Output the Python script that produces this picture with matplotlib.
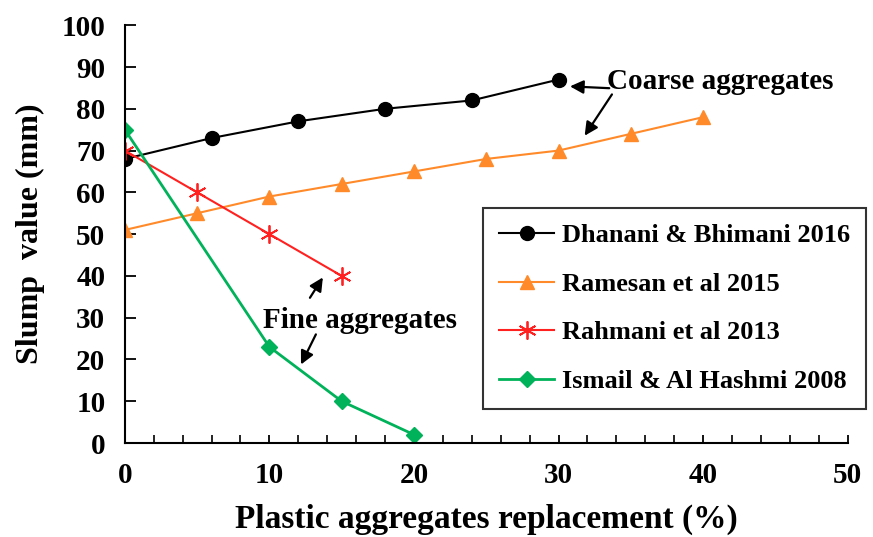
import matplotlib.pyplot as plt
from matplotlib.ticker import MultipleLocator

plt.rcParams['font.family'] = ['Liberation Serif', 'DejaVu Serif']
plt.rcParams['font.weight'] = 'bold'

# data
x_dhanani = [0, 6, 12, 18, 24, 30]
y_dhanani = [68, 73, 77, 80, 82, 87]
x_ramesan = [0, 5, 10, 15, 20, 25, 30, 35, 40]
y_ramesan = [51, 55, 59, 62, 65, 68, 70, 74, 78]
x_rahmani = [0, 5, 10, 15]
y_rahmani = [70, 60, 50, 40]
x_ismail = [0, 10, 15, 20]
y_ismail = [75, 23, 10, 2]

fig = plt.figure(figsize=(8.73, 5.37), dpi=100)
ax = fig.add_axes([0.143, 0.175, 0.828, 0.778])

ax.plot(x_dhanani, y_dhanani, color="black", marker="o", ms=10, lw=1.5,
        label="Dhanani & Bhimani 2016")
ax.plot(x_ramesan, y_ramesan, color="#ff8a2a", marker="^", ms=10, lw=1.5,
        label="Ramesan et al 2015")
ax.plot(x_rahmani, y_rahmani, color="#ff2020", marker=(6, 2, 0), ms=13, mew=1.3,
        lw=1.5, label="Rahmani et al 2013")
ax.plot(x_ismail, y_ismail, color="#00b259", marker="D", ms=8, lw=2,
        label="Ismail & Al Hashmi 2008")

ax.set_xlim(0, 50)
ax.set_ylim(0, 100)
ax.xaxis.set_major_locator(MultipleLocator(10))
ax.xaxis.set_minor_locator(MultipleLocator(2))
ax.yaxis.set_major_locator(MultipleLocator(10))
ax.spines["top"].set_visible(False)
ax.spines["right"].set_visible(False)
ax.spines["left"].set_linewidth(1.5)
ax.spines["bottom"].set_linewidth(1.5)
ax.tick_params(axis="y", which="major", direction="in", length=8, width=1.3,
               labelsize=21, pad=14)
ax.tick_params(axis="x", which="major", direction="in", length=6, width=1.3,
               labelsize=21, pad=14)
ax.tick_params(axis="x", which="minor", direction="in", length=6, width=1.2)
ax.set_xlabel("Plastic aggregates replacement (%)", fontsize=24, fontweight="bold", labelpad=10)
ax.set_ylabel("Slump  value (mm)", fontsize=23, fontweight="bold", labelpad=12)

leg = ax.legend(loc="upper left", bbox_to_anchor=(483 / 873, 1 - 208 / 537),
                bbox_transform=fig.transFigure, fontsize=19,
                frameon=True, fancybox=False, edgecolor="black", borderpad=0.6,
                labelspacing=0.95, handlelength=2.1, handletextpad=0.3,
                borderaxespad=0)
leg.get_frame().set_linewidth(1.5)

ax.text(41.2, 86.5, "Coarse aggregates", fontsize=21, ha="center", va="center")
arr = dict(arrowstyle="-|>", color="black", lw=1.6, mutation_scale=20)
ax.annotate("", xy=(30.6, 85.4), xytext=(33.7, 84.9), arrowprops=arr)
ax.annotate("", xy=(31.7, 73), xytext=(33.8, 84), arrowprops=arr)
ax.text(16.3, 29.4, "Fine aggregates", fontsize=21, ha="center", va="center")
ax.annotate("", xy=(13.8, 40.2), xytext=(12.7, 34.2), arrowprops=arr)
ax.annotate("", xy=(12.1, 18.2), xytext=(13.3, 26.6), arrowprops=arr)

fig.savefig("out.png", dpi=100)
